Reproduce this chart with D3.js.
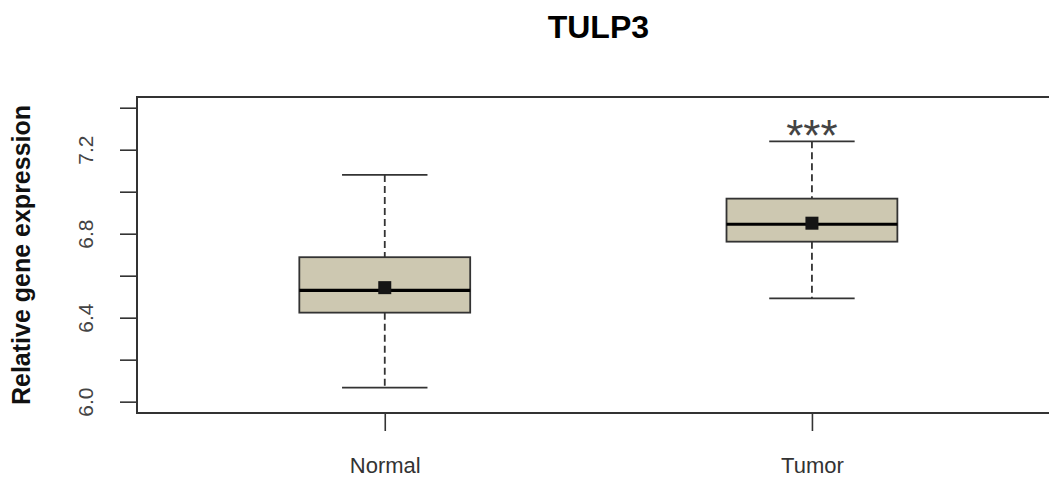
<!DOCTYPE html>
<html>
<head>
<meta charset="utf-8">
<script src="https://cdn.jsdelivr.net/npm/d3@7"></script>
<style>
  body { margin: 0; background: #fff; }
  svg text { font-family: "Liberation Sans", Arial, sans-serif; }
</style>
</head>
<body>
<div id="chart"></div>
<script>
// TULP3 expression, normal vs tumor (boxplot)
var groups = ["Normal", "Tumor"];
var whiskerLow = [6.067, 6.492];
var q1 = [6.424, 6.762];
var median = [6.530, 6.845];
var q3 = [6.688, 6.967];
var whiskerHigh = [7.080, 7.240];
var means = [6.543, 6.850];
var yTicks = [6.0, 6.2, 6.4, 6.6, 6.8, 7.0, 7.2, 7.4];
var yLabels = ["6.0", "", "6.4", "", "6.8", "", "7.2", ""];
var signif = ["", "***"];

var width = 1049, height = 478;

var svg = d3.select("#chart")
  .append("svg")
  .attr("width", width)
  .attr("height", height);

var plot = { left: 137, top: 97, bottom: 413 };

var x_scale = d3.scaleLinear()
  .domain([0.42, 2.58])
  .range([plot.left, 1059.7]);

var y_scale = d3.scaleLinear()
  .domain([5.946, 7.451])
  .range([plot.bottom, plot.top]);

var data = groups.map(function(g, i) {
  return {
    name: g, pos: i + 1,
    lo: whiskerLow[i], q1: q1[i], med: median[i], q3: q3[i], hi: whiskerHigh[i],
    mean: means[i], sig: signif[i]
  };
});

var boxW = 0.4, capW = 0.2;

// title
svg.append("text")
  .attr("x", (x_scale.range()[0] + x_scale.range()[1]) / 2)
  .attr("y", 38)
  .attr("text-anchor", "middle")
  .style("font-size", "32px")
  .style("font-weight", "bold")
  .style("fill", "#000")
  .text("TULP3");

// y axis
var yAxis = d3.axisLeft(y_scale)
  .tickValues(yTicks)
  .tickSize(17)
  .tickPadding(0)
  .tickFormat(function(d, i) { return yLabels[i]; });

var gy = svg.append("g")
  .attr("transform", "translate(" + plot.left + ",0)")
  .call(yAxis);
gy.select(".domain").remove();
gy.selectAll(".tick line").attr("stroke", "#333").attr("stroke-width", 1.6);
gy.selectAll(".tick text")
  .attr("x", 0).attr("y", 0).attr("dy", 0)
  .attr("transform", "translate(-44,0) rotate(-90)")
  .attr("text-anchor", "middle")
  .style("font-size", "21px")
  .style("fill", "#444");

// y label
svg.append("text")
  .attr("transform", "translate(30," + ((plot.top + plot.bottom) / 2) + ") rotate(-90)")
  .attr("text-anchor", "middle")
  .style("font-size", "25px")
  .style("font-weight", "bold")
  .style("fill", "#111")
  .text("Relative gene expression");

// x axis
var xAxis = d3.axisBottom(x_scale)
  .tickValues(data.map(function(d) { return d.pos; }))
  .tickSize(18)
  .tickPadding(26)
  .tickFormat(function(d) { return groups[d - 1]; });

var gx = svg.append("g")
  .attr("transform", "translate(0," + plot.bottom + ")")
  .call(xAxis);
gx.select(".domain").remove();
gx.selectAll(".tick line").attr("stroke", "#333").attr("stroke-width", 1.6);
gx.selectAll(".tick text")
  .style("font-size", "22px")
  .style("fill", "#333");

// frame
svg.append("rect")
  .attr("x", plot.left)
  .attr("y", plot.top)
  .attr("width", x_scale.range()[1] - plot.left)
  .attr("height", plot.bottom - plot.top)
  .attr("fill", "none")
  .attr("stroke", "#333")
  .attr("stroke-width", 2);

var box = svg.selectAll(".box")
  .data(data)
  .enter()
  .append("g")
  .attr("class", "box");

// dashed whiskers
box.append("line")
  .attr("x1", function(d) { return x_scale(d.pos); })
  .attr("x2", function(d) { return x_scale(d.pos); })
  .attr("y1", function(d) { return y_scale(d.hi); })
  .attr("y2", function(d) { return y_scale(d.q3); })
  .attr("stroke", "#333").attr("stroke-width", 1.8)
  .attr("stroke-dasharray", "7,4");
box.append("line")
  .attr("x1", function(d) { return x_scale(d.pos); })
  .attr("x2", function(d) { return x_scale(d.pos); })
  .attr("y1", function(d) { return y_scale(d.q1); })
  .attr("y2", function(d) { return y_scale(d.lo); })
  .attr("stroke", "#333").attr("stroke-width", 1.8)
  .attr("stroke-dasharray", "7,4");

// caps
["hi", "lo"].forEach(function(k) {
  box.append("line")
    .attr("x1", function(d) { return x_scale(d.pos - capW / 2); })
    .attr("x2", function(d) { return x_scale(d.pos + capW / 2); })
    .attr("y1", function(d) { return y_scale(d[k]); })
    .attr("y2", function(d) { return y_scale(d[k]); })
    .attr("stroke", "#333").attr("stroke-width", 1.8);
});

// box
box.append("rect")
  .attr("x", function(d) { return x_scale(d.pos - boxW / 2); })
  .attr("width", function(d) { return x_scale(d.pos + boxW / 2) - x_scale(d.pos - boxW / 2); })
  .attr("y", function(d) { return y_scale(d.q3); })
  .attr("height", function(d) { return y_scale(d.q1) - y_scale(d.q3); })
  .attr("fill", "#CDC8B1")
  .attr("stroke", "#333")
  .attr("stroke-width", 1.8);

// median
box.append("line")
  .attr("x1", function(d) { return x_scale(d.pos - boxW / 2); })
  .attr("x2", function(d) { return x_scale(d.pos + boxW / 2); })
  .attr("y1", function(d) { return y_scale(d.med); })
  .attr("y2", function(d) { return y_scale(d.med); })
  .attr("stroke", "#000").attr("stroke-width", 3.2);

// mean square
box.append("rect")
  .attr("x", function(d) { return x_scale(d.pos) - 6.5; })
  .attr("y", function(d) { return y_scale(d.mean) - 6.5; })
  .attr("width", 13).attr("height", 13)
  .attr("fill", "#151515");

// significance stars
box.append("text")
  .attr("x", function(d) { return x_scale(d.pos); })
  .attr("y", function(d) { return y_scale(d.hi) + 10; })
  .attr("text-anchor", "middle")
  .style("font-size", "44px")
  .style("fill", "#444")
  .text(function(d) { return d.sig; });
</script>
</body>
</html>
